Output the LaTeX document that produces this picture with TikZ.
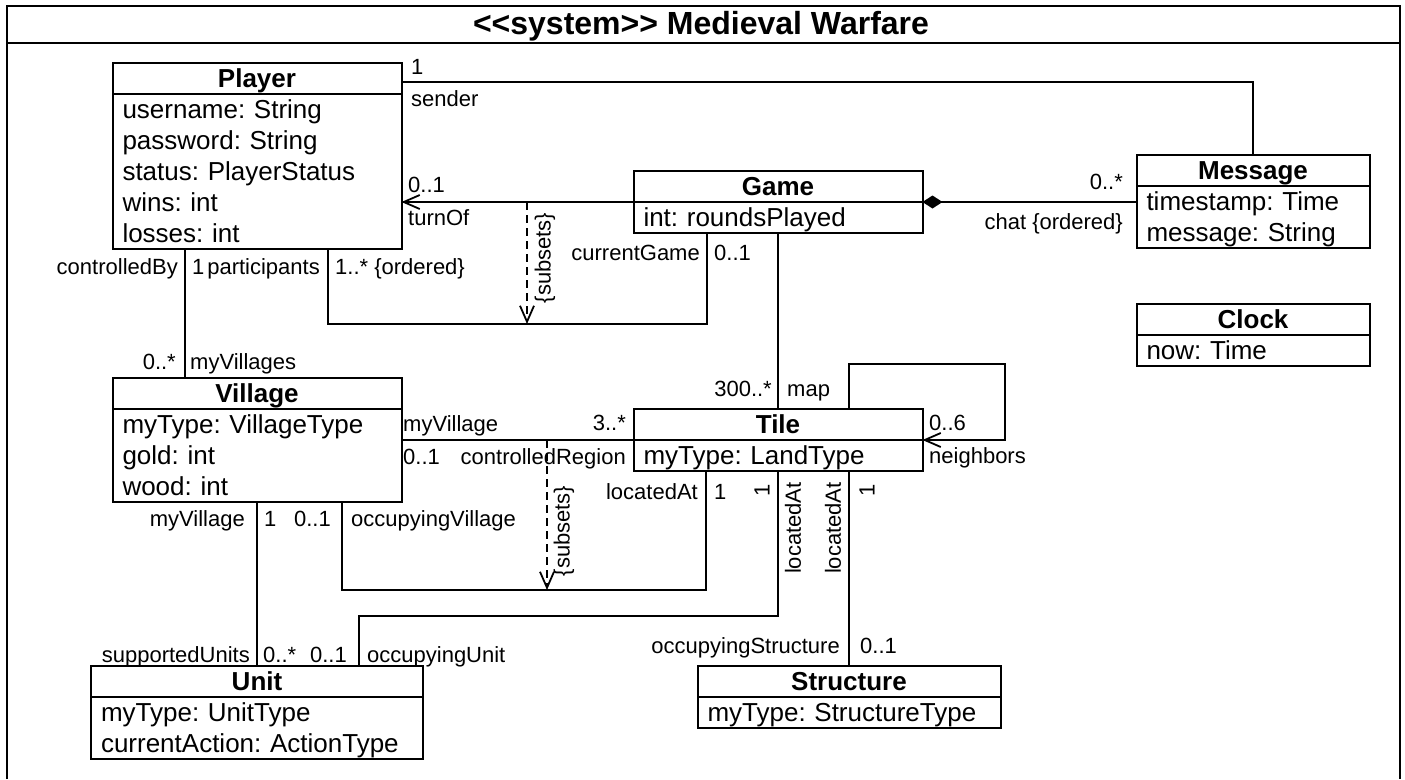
\documentclass[tikz,border=0pt]{standalone}
\usepackage{fontspec}
\setmainfont{Liberation Sans}
\usepackage{tikz}
\usetikzlibrary{positioning}
\usetikzlibrary{arrows.meta}
\frenchspacing

\newcommand{\clsfont}{\fontsize{26}{31}\selectfont}
\newcommand{\rolefont}{\fontsize{22}{26}\selectfont}
\newcommand{\row}{\rule[-7pt]{0pt}{31pt}}

\begin{document}
\begin{tikzpicture}[x=1pt, y=-1pt,
        clshead/.style={draw, line width=2pt, font=\clsfont\bfseries, inner sep=0pt, outer sep=0pt, text height=24pt, text depth=7pt},
        clsbody/.style={draw, line width=2pt, font=\clsfont, align=left, inner xsep=10pt, inner ysep=0pt, outer sep=0pt},
        assoc/.style={line width=1.8pt},
        subsets/.style={dash pattern=on 8pt off 5pt, ->},
        role/.style={font=\rolefont, inner sep=0pt},
        >={Straight Barb[length=16pt,width=14pt]}]
        \useasboundingbox (0,0) rectangle (1405,779);

        % frame
        \draw [line width=2pt] (7,779) -- (7,6) -- (1400,6) -- (1400,779);
        \draw [line width=2pt] (7,43) -- (1400,43);
        \node[font=\fontsize{32}{38}\selectfont\bfseries] (title) at (701,26) {<{}<system>{}> Medieval Warfare};

        % classes
        \node[clshead, minimum width=289pt] (player) at (257,78.5) {Player};
        \node[clsbody, text width=269pt, below=0pt of player] (playerattr) {\row username: String\\ \row password: String\\ \row status: PlayerStatus\\ \row wins: int\\ \row losses: int};
        \node[clshead, minimum width=289pt] (game) at (778,186.5) {Game};
        \node[clsbody, text width=269pt, below=0pt of game] (gameattr) {\row int: roundsPlayed};
        \node[clshead, minimum width=233pt] (message) at (1253,170.5) {Message};
        \node[clsbody, text width=213pt, below=0pt of message] (messageattr) {\row timestamp: Time\\ \row message: String};
        \node[clshead, minimum width=233pt] (clock) at (1253,319.5) {Clock};
        \node[clsbody, text width=213pt, below=0pt of clock] (clockattr) {\row now: Time};
        \node[clshead, minimum width=289pt] (village) at (257,393.5) {Village};
        \node[clsbody, text width=269pt, below=0pt of village] (villageattr) {\row myType: VillageType\\ \row gold: int\\ \row wood: int};
        \node[clshead, minimum width=289pt] (tile) at (778,424.5) {Tile};
        \node[clsbody, text width=269pt, below=0pt of tile] (tileattr) {\row myType: LandType};
        \node[clshead, minimum width=332pt] (unit) at (257,681.5) {Unit};
        \node[clsbody, text width=312pt, below=0pt of unit] (unitattr) {\row myType: UnitType\\ \row currentAction: ActionType};
        \node[clshead, minimum width=303pt] (structure) at (849,681.5) {Structure};
        \node[clsbody, text width=283pt, below=0pt of structure] (structureattr) {\row myType: StructureType};

        % associations
        \draw [assoc] ([yshift=-3.5pt]player.east) -| (message.north);
        \draw [assoc, ->] (gameattr.north west) -- (gameattr.north west -| playerattr.east);
        \draw [assoc, {Diamond[length=20pt,width=13pt]}-] (gameattr.north east) -- (gameattr.north east -| messageattr.west);
        \draw [assoc] ([xshift=71pt]playerattr.south) -- ++(0,75) -| ([xshift=-71pt]gameattr.south);
        \draw [assoc] (gameattr.south) -- (tile.north);
        \draw [assoc] ([xshift=-72pt]playerattr.south) -- ([xshift=-72pt]village.north);
        \draw [assoc] (villageattr.east |- tileattr.north west) -- (tileattr.north west);
        \draw [assoc] ([xshift=85pt]villageattr.south) -- ++(0,88) -| ([xshift=-72pt]tileattr.south);
        \draw [assoc] (villageattr.south) -- (unit.north);
        \draw [assoc] (tileattr.south) -- ++(0,145) -| ([xshift=102pt]unit.north);
        \draw [assoc] ([xshift=71pt]tileattr.south) -- (structure.north);
        \coordinate (loopcorner) at (1005,364);
        \draw [assoc, ->] ([xshift=71pt]tile.north) |- (loopcorner) |- (tileattr.north east);

        % subsets constraints
        \coordinate (sub1a) at (527,202);
        \coordinate (sub1b) at (527,324);
        \coordinate (sub2a) at (547,440);
        \coordinate (sub2b) at (547,590);
        \draw [assoc, subsets] (sub1a) -- (sub1b);
        \draw [assoc, subsets] (sub2a) -- (sub2b);
        \node[role, rotate=90] (sub1lbl) at (545,258) {\{subsets\}};
        \node[role, rotate=90] (sub2lbl) at (564,531) {\{subsets\}};

        % roles and multiplicities
        \node[role, anchor=base west] (sendmult) at (411,74) {1};
        \node[role, anchor=base west] (sendrole) at (411,106) {sender};
        \node[role, anchor=base west] (turnmult) at (408,192) {0..1};
        \node[role, anchor=base west] (turnrole) at (408,225) {turnOf};
        \node[role, anchor=base east] (chatmult) at (1123,189) {0..*};
        \node[role, anchor=base east] (chatrole) at (1123,229) {chat \{ordered\}};
        \node[role, anchor=base east] (ctrlrole) at (178,274) {controlledBy};
        \node[role, anchor=base west] (ctrlmult) at (192,274) {1};
        \node[role, anchor=base east] (partrole) at (320,274) {participants};
        \node[role, anchor=base west] (partmult) at (335,274) {1..* \{ordered\}};
        \node[role, anchor=base east] (currole) at (700,260) {currentGame};
        \node[role, anchor=base west] (curmult) at (714,260) {0..1};
        \node[role, anchor=base east] (vilmult) at (176,369) {0..*};
        \node[role, anchor=base west] (vilrole) at (190,369) {myVillages};
        \node[role, anchor=base east] (mapmult) at (772,396) {300..*};
        \node[role, anchor=base west] (maprole) at (787,396) {map};
        \node[role, anchor=base west] (regvrole) at (403,431) {myVillage};
        \node[role, anchor=base east] (regmult) at (626,430) {3..*};
        \node[role, anchor=base west] (regvmult) at (403,464) {0..1};
        \node[role, anchor=base east] (regrole) at (626,464) {controlledRegion};
        \node[role, anchor=base east] (supvrole) at (245,526) {myVillage};
        \node[role, anchor=base west] (supvmult) at (264,526) {1};
        \node[role, anchor=base east] (occvmult) at (331,526) {0..1};
        \node[role, anchor=base west] (occvrole) at (351,526) {occupyingVillage};
        \node[role, anchor=base east] (vlocrole) at (698,499) {locatedAt};
        \node[role, anchor=base west] (vlocmult) at (714,499) {1};
        \node[role, rotate=90, anchor=east] (ulocmult) at (762,484) {1};
        \node[role, rotate=90, anchor=east] (ulocrole) at (793,482) {locatedAt};
        \node[role, rotate=90, anchor=east] (slocrole) at (833,482) {locatedAt};
        \node[role, rotate=90, anchor=east] (slocmult) at (867,484) {1};
        \node[role, anchor=base east] (suprole) at (250,662) {supportedUnits};
        \node[role, anchor=base west] (supmult) at (263,662) {0..*};
        \node[role, anchor=base east] (occumult) at (347,662) {0..1};
        \node[role, anchor=base west] (occurole) at (367,662) {occupyingUnit};
        \node[role, anchor=base east] (occsrole) at (840,653) {occupyingStructure};
        \node[role, anchor=base west] (occsmult) at (860,653) {0..1};
        \node[role, anchor=base west] (nbmult) at (929,430) {0..6};
        \node[role, anchor=base west] (nbrole) at (929,463) {neighbors};
\end{tikzpicture}
\end{document}
